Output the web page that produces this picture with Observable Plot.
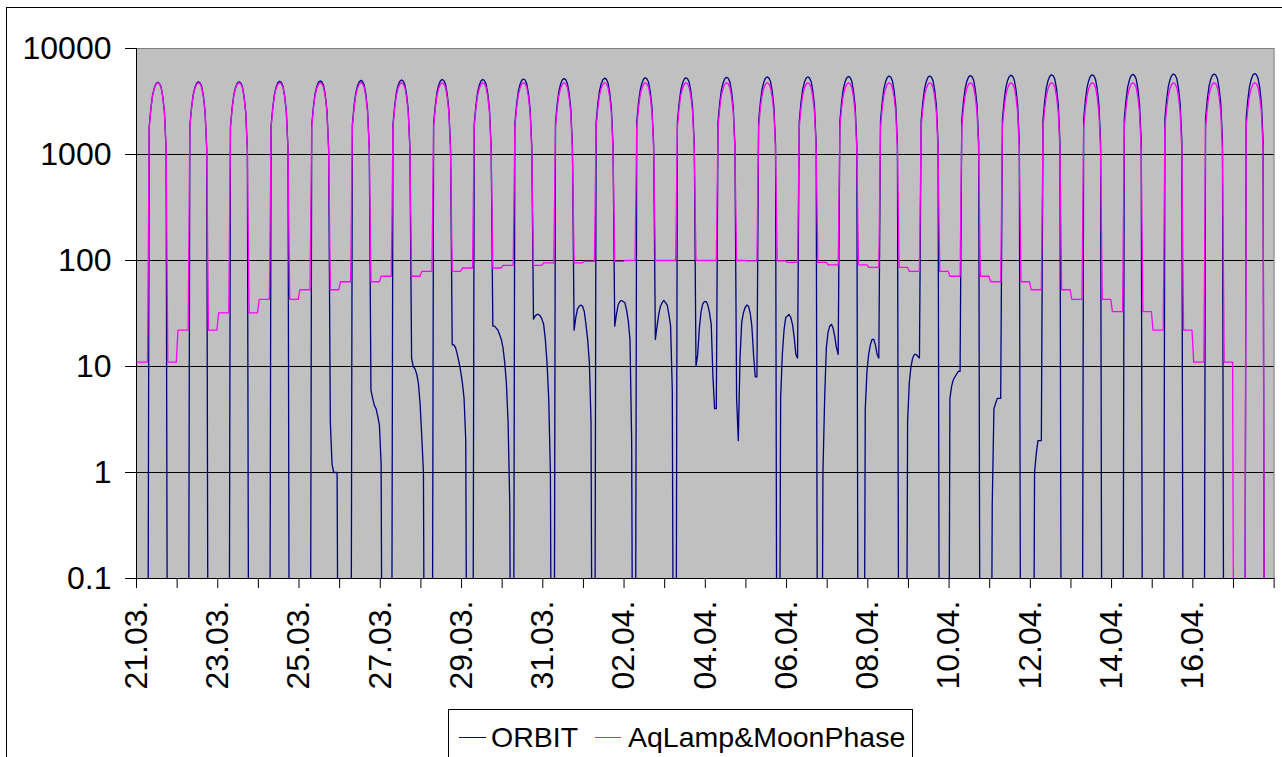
<!DOCTYPE html>
<html>
<head>
<meta charset="utf-8">
<script src="https://cdn.jsdelivr.net/npm/d3@7"></script>
<script src="https://cdn.jsdelivr.net/npm/@observablehq/plot@0.6"></script>
<style>
  html, body { margin: 0; padding: 0; background: #fff; }
  body { width: 1282px; height: 757px; overflow: hidden; position: relative; font-family: "Liberation Sans", Arial, sans-serif; }
  #frame { position: absolute; left: 6px; top: 7px; width: 1400px; height: 900px; border: 1px solid #000; }
  #chart { position: absolute; left: 0; top: 0; }
  #legend { position: absolute; left: 448px; top: 709px; width: 463px; height: 47px; border: 1px solid #000; background: #fff; }
  #legend .sw { position: absolute; top: 27px; height: 1px; }
  #legend .tx { position: absolute; top: 13px; font-size: 28.5px; line-height: 28.5px; white-space: nowrap; color: #000; }
</style>
</head>
<body>
<div id="frame"></div>
<div id="chart"></div>
<div id="legend"></div>
<script>
// ---- data ----
const seriesNames = ["ORBIT", "AqLamp&MoonPhase"];
const seriesColors = ["#000080", "#FF00FF"];

const dayLabels = ["21.03.","22.03.","23.03.","24.03.","25.03.","26.03.","27.03.","28.03.","29.03.","30.03.",
  "31.03.","01.04.","02.04.","03.04.","04.04.","05.04.","06.04.","07.04.","08.04.","09.04.",
  "10.04.","11.04.","12.04.","13.04.","14.04.","15.04.","16.04.","17.04."];

const yTickValues = [0.1, 1, 10, 100, 1000, 10000];
const yTickLabels = ["0.1", "1", "10", "100", "1000", "10000"];

// daytime hours (07..17) and the lamp's daylight values
const dayHours = [7, 8, 9, 10, 11, 12, 13, 14, 15, 16, 17];
const lampDay = [1800, 2700, 3600, 4200, 4600, 4750, 4650, 4300, 3500, 2500, 1100];

// ORBIT daily maximum
const orbitPeak = [4800, 4850, 4850, 4900, 4950, 5000, 5050, 5100, 5100, 5150,
  5200, 5250, 5300, 5300, 5350, 5400, 5400, 5450, 5500, 5500,
  5550, 5600, 5650, 5650, 5700, 5750, 5750, 5800];

// lamp moon-phase level for each day (night value)
const lampNight = [11, 22, 32, 43, 53, 63, 71, 79, 85, 90,
  95, 98, 100, 100, 100, 99, 96, 91, 86, 79,
  71, 63, 53, 43, 33, 22, 11, 0];

// ORBIT night values, hours 18,19,20,21,22,23,00,01,02,03,04,05,06 (following day)
const orbitMorning0 = [0, 0, 0, 0, 0, 0, 0];
const orbitNight = [
  [0,0,0,0,0,0,0,0,0,0,0,0,0],
  [0,0,0,0,0,0,0,0,0,0,0,0,0],
  [0,0,0,0,0,0,0,0,0,0,0,0,0],
  [0,0,0,0,0,0,0,0,0,0,0,0,0],
  [3,1.2,1,1,1,0,0,0,0,0,0,0,0],
  [6,5,4.3,4,3.4,2.8,1.2,0,0,0,0,0,0],
  [12,10,9.5,8.5,7,4.5,2.2,1,0,0,0,0,0],
  [16,16,15,13,11,9,7,5,2,0,0,0,0],
  [24,24,23,22,20,18,15,11,7,3,0.5,0,0],
  [28,30,31,31,30,28,25,18,11,5,1,0,0],
  [22,29,35,37,38,37,33,25,18,11,3,0,0],
  [24,31,38,41,42,41,40,34,27,18,2,0,0],
  [18,24,31,37,40,42,40,38,31,24,6,0,0],
  [10,13,23,33,39,41,41,38,32,25,8,4,4],
  [5,2,12,26,32,36,38,37,32,24,13,8,8],
  [0,0,5,13,22,29,30,31,29,25,19,13,12],
  [0,0,0,1,5,15,21,24,25,23,19,15,13],
  [0,0,0,0,4,9,13,16,18,18,16,13,12],
  [0,0,0,0,0,3,7,10,12,13,13,12.5,12],
  [0,0,0,0,0,0,5,6.5,7.5,8,8.5,9,9],
  [0,0,0,0,0,0,0,0.5,4,4.5,5,5,5],
  [0,0,0,0,0,0,0,0,1,1.5,2,2,2],
  [0,0,0,0,0,0,0,0,0,0,0,0,0],
  [0,0,0,0,0,0,0,0,0,0,0,0,0],
  [0,0,0,0,0,0,0,0,0,0,0,0,0],
  [0,0,0,0,0,0,0,0,0,0,0,0,0],
  [0,0,0,0,0,0,0,0,0,0,0,0,0],
  [0,0,0,0,0,0]
];

// ---- build hourly table ----
const lampMax = Math.max(...lampDay);
const rows = [];
for (let d = 0; d < dayLabels.length; d++) {
  for (let h = 0; h < 24; h++) {
    let lamp, orbit;
    if (h < dayHours[0]) {
      lamp = lampNight[d];
      orbit = d === 0 ? orbitMorning0[h] : orbitNight[d - 1][6 + h];
    } else if (h <= dayHours[dayHours.length - 1]) {
      const i = dayHours.indexOf(h);
      lamp = lampDay[i];
      orbit = lampDay[i] * orbitPeak[d] / lampMax;
    } else {
      lamp = lampNight[d];
      orbit = orbitNight[d][h - 18];
    }
    rows.push({t: d * 24 + h, orbit, lamp});
  }
}

const floorVal = 1e-4; // zero values drop to the bottom edge of the log axis
const xPos = d => d.t + 0.5; // category centred in its hourly slot
const dayTicks = d3.range(0, dayLabels.length + 1).map(i => i * 24);
const labelTicks = d3.range(0, dayLabels.length, 2).map(i => i * 24);

const chart = Plot.plot({
  width: 1282,
  height: 700,
  marginLeft: 136,
  marginRight: 8.4,
  marginTop: 48,
  marginBottom: 122,
  style: {fontFamily: "'Liberation Sans', Arial, sans-serif", fontSize: "32px", background: "transparent", color: "#000", overflow: "visible"},
  x: {domain: [0, dayLabels.length * 24]},
  y: {type: "log", domain: [0.1, 10000]},
  marks: [
    Plot.frame({fill: "#C0C0C0", stroke: "#808080"}),
    Plot.ruleY([1, 10, 100, 1000], {stroke: "#000", strokeWidth: 1}),
    Plot.lineY(rows, {x: xPos, y: d => Math.max(d.orbit, floorVal), stroke: seriesColors[0], strokeWidth: 1.3, clip: true}),
    Plot.lineY(rows, {x: xPos, y: d => Math.max(d.lamp, floorVal), stroke: seriesColors[1], strokeWidth: 1.3, clip: true}),
    Plot.ruleX([0], {stroke: "#000"}),
    Plot.ruleY([0.1], {stroke: "#000"}),
    Plot.axisY(yTickValues, {tickSize: 11, tickPadding: 14, label: null, fontSize: 32,
      tickFormat: v => yTickLabels[yTickValues.indexOf(v)]}),
    Plot.axisX(dayTicks, {tickSize: 10, tickPadding: 0, label: null, tickFormat: () => ""}),
    Plot.axisX(labelTicks, {tickSize: 0, tickPadding: 22, tickRotate: -90, label: null, fontSize: 32,
      textAnchor: "end", lineAnchor: "middle", tickFormat: v => dayLabels[v / 24]})
  ]
});
document.getElementById("chart").appendChild(chart);

// ---- legend ----
const legend = document.getElementById("legend");
const legendItems = [
  {sw: 10, tx: 42, w: 27},
  {sw: 146, tx: 179, w: 26}
];
seriesNames.forEach((name, i) => {
  const sw = document.createElement("div");
  sw.className = "sw";
  sw.style.left = legendItems[i].sw + "px";
  sw.style.width = legendItems[i].w + "px";
  sw.style.background = seriesColors[i];
  legend.appendChild(sw);
  const tx = document.createElement("div");
  tx.className = "tx";
  tx.style.left = legendItems[i].tx + "px";
  tx.textContent = name;
  legend.appendChild(tx);
});
</script>
</body>
</html>
